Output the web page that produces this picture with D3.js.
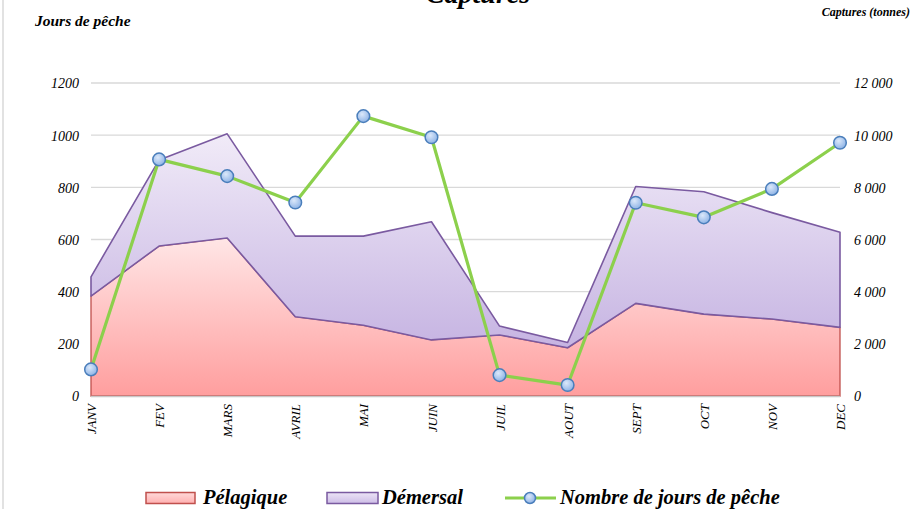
<!DOCTYPE html>
<meta charset="utf-8">
<style>
  body { margin: 0; background: #fff; }
  text { font-family: "Liberation Serif", "Times New Roman", serif; font-style: italic; }
  .grid line { stroke: #d9d9d9; stroke-width: 1.3; }
  .tick text { font-size: 14px; fill: #000; }
</style>
<svg width="921" height="511"></svg>
<script src="https://cdn.jsdelivr.net/npm/d3@7"></script>
<script>
  var mois = ["JANV", "FEV", "MARS", "AVRIL", "MAI", "JUIN", "JUIL", "AOUT", "SEPT", "OCT", "NOV", "DEC"];
  // captures en tonnes (aires empilées)
  var pelagique = [3830, 5750, 6060, 3040, 2710, 2150, 2340, 1850, 3550, 3140, 2950, 2630];
  var demersal = [740, 3300, 3990, 3090, 3420, 4530, 340, 200, 4480, 4690, 4080, 3650];
  // nombre de jours de pêche (axe de gauche)
  var jours = [102, 907, 843, 742, 1073, 992, 80, 42, 741, 685, 794, 971];
  var joursTicks = [0, 200, 400, 600, 800, 1000, 1200];
  var capturesTicks = [0, 2000, 4000, 6000, 8000, 10000, 12000];

  var svg = d3.select("svg");
  var pLeft = 91, pRight = 840, pTop = 83, pBottom = 396;

  var x = d3.scalePoint().domain(mois).range([pLeft, pRight]);
  var yL = d3.scaleLinear().domain([0, 1200]).range([pBottom, pTop]);
  var yR = d3.scaleLinear().domain([0, 12000]).range([pBottom, pTop]);

  var defs = svg.append("defs");
  function grad(id, c1, c2) {
    var g = defs.append("linearGradient").attr("id", id)
      .attr("x1", 0).attr("y1", 0).attr("x2", 0).attr("y2", 1);
    g.append("stop").attr("offset", "0%").attr("stop-color", c1);
    g.append("stop").attr("offset", "100%").attr("stop-color", c2);
  }
  grad("gPel", "#ffe6e6", "#ff9e9e");
  grad("gDem", "#f1ebf8", "#c6b4e2");
  grad("gLeg1", "#ffd9d9", "#ffb0b0");
  grad("gLeg2", "#ece4f6", "#cdbde6");
  var mg = defs.append("radialGradient").attr("id", "gMark").attr("cx", "40%").attr("cy", "35%").attr("r", "65%");
  mg.append("stop").attr("offset", "0%").attr("stop-color", "#dbe8fa");
  mg.append("stop").attr("offset", "100%").attr("stop-color", "#8fb4e6");

  // cadre gauche
  svg.append("line").attr("x1", 3).attr("x2", 3).attr("y1", 0).attr("y2", 509)
    .attr("stroke", "#d9d9d9").attr("stroke-width", 1.5);

  // grille
  svg.append("g").attr("class", "grid")
    .selectAll("line").data(joursTicks.slice(1)).enter().append("line")
    .attr("x1", pLeft).attr("x2", pRight)
    .attr("y1", function(d) { return yL(d); }).attr("y2", function(d) { return yL(d); });

  // aires empilées
  var table = mois.map(function(m, i) { return { mois: m, pel: pelagique[i], dem: demersal[i] }; });
  var series = d3.stack().keys(["pel", "dem"])(table);
  var area = d3.area()
    .x(function(d) { return x(d.data.mois); })
    .y0(function(d) { return yR(d[0]); })
    .y1(function(d) { return yR(d[1]); });

  svg.append("path").datum(series[0]).attr("d", area)
    .attr("fill", "url(#gPel)").attr("stroke", "#c0504d").attr("stroke-width", 1.3);
  svg.append("path").datum(series[1]).attr("d", area)
    .attr("fill", "url(#gDem)").attr("stroke", "#7a5aa0").attr("stroke-width", 1.6)
    .attr("stroke-linejoin", "round");

  // ligne de base
  svg.append("line").attr("x1", pLeft).attr("x2", pRight).attr("y1", pBottom + 0.5).attr("y2", pBottom + 0.5)
    .attr("stroke", "#c8c8c8").attr("stroke-width", 1.5);

  // jours de pêche
  var line = d3.line().x(function(d, i) { return x(mois[i]); }).y(function(d) { return yL(d); });
  svg.append("path").datum(jours).attr("d", line)
    .attr("fill", "none").attr("stroke", "#8cd04c").attr("stroke-width", 3.2).attr("stroke-linejoin", "round");
  svg.selectAll("circle.m").data(jours).enter().append("circle").attr("class", "m")
    .attr("cx", function(d, i) { return x(mois[i]); })
    .attr("cy", function(d) { return yL(d); })
    .attr("r", 6.3).attr("fill", "url(#gMark)").attr("stroke", "#4a7ebb").attr("stroke-width", 1.5);

  // axes
  var axL = svg.append("g").attr("transform", "translate(" + (pLeft - 12) + ",0)")
    .call(d3.axisLeft(yL).tickValues(joursTicks).tickSize(0).tickPadding(0).tickFormat(d3.format("d")));
  axL.select(".domain").remove();
  axL.selectAll("text").attr("dy", "0.35em");

  var fmt = function(d) { return d3.format(",")(d).replace(/,/g, " "); };
  var axR = svg.append("g").attr("transform", "translate(" + (pRight + 14) + ",0)")
    .call(d3.axisRight(yR).tickValues(capturesTicks).tickSize(0).tickPadding(0).tickFormat(fmt));
  axR.select(".domain").remove();
  axR.selectAll("text").attr("dy", "0.35em");

  var axB = svg.append("g").attr("transform", "translate(0," + (pBottom + 8) + ")")
    .call(d3.axisBottom(x).tickSize(0).tickPadding(0));
  axB.select(".domain").remove();
  axB.selectAll("text")
    .attr("transform", "rotate(-90)").attr("text-anchor", "end")
    .attr("x", 0).attr("y", 0).attr("dx", 0).attr("dy", "0.35em")
    .style("font-size", "13px");

  // titres
  svg.append("text").attr("x", 478).attr("y", 3).attr("text-anchor", "middle")
    .style("font-size", "28px").style("font-weight", "bold").text("Captures");
  svg.append("text").attr("x", 35).attr("y", 26)
    .style("font-size", "15.5px").style("font-weight", "bold").text("Jours de pêche");
  svg.append("text").attr("x", 910).attr("y", 16).attr("text-anchor", "end")
    .style("font-size", "12px").style("font-weight", "bold").text("Captures (tonnes)");

  // légende
  var legY = 498;
  var leg = svg.append("g").style("font-size", "20.5px").style("font-weight", "bold");
  leg.append("rect").attr("x", 146).attr("y", legY - 5.5).attr("width", 49).attr("height", 11)
    .attr("fill", "url(#gLeg1)").attr("stroke", "#c0504d").attr("stroke-width", 1.5);
  leg.append("text").attr("x", 203).attr("y", legY + 6).text("Pélagique");
  leg.append("rect").attr("x", 327).attr("y", legY - 5.5).attr("width", 51).attr("height", 11)
    .attr("fill", "url(#gLeg2)").attr("stroke", "#7a5aa0").attr("stroke-width", 1.5);
  leg.append("text").attr("x", 382).attr("y", legY + 6).text("Démersal");
  leg.append("line").attr("x1", 505).attr("x2", 556).attr("y1", legY).attr("y2", legY)
    .attr("stroke", "#8cd04c").attr("stroke-width", 3);
  leg.append("circle").attr("cx", 530).attr("cy", legY).attr("r", 5.5)
    .attr("fill", "url(#gMark)").attr("stroke", "#4a7ebb").attr("stroke-width", 1.5);
  leg.append("text").attr("x", 560).attr("y", legY + 6).text("Nombre de jours de pêche");
</script>
